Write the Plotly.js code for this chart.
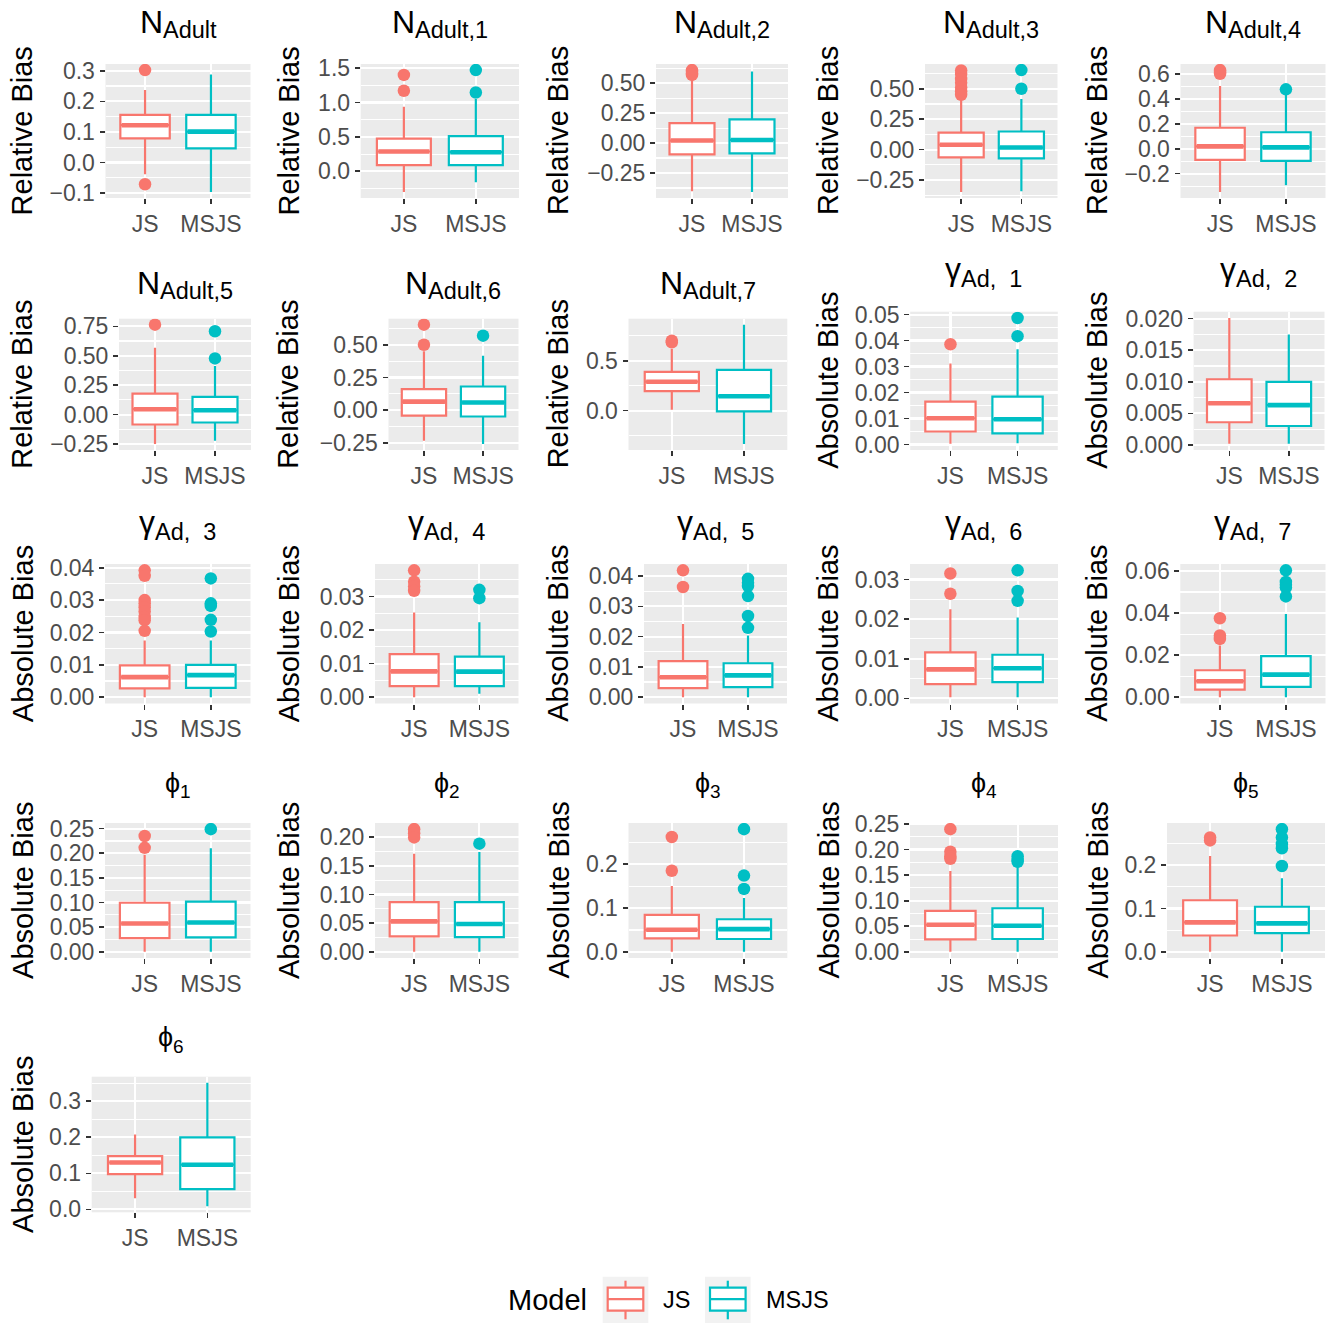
<!DOCTYPE html>
<html><head><meta charset="utf-8">
<script src="https://cdn.plot.ly/plotly-3.0.1.min.js"></script>
<style>html,body{margin:0;padding:0;background:#fff}</style>
</head><body>
<div id="chart" style="width:1339px;height:1323px"></div>
<script>
// ---------------- data ----------------
const models = ['JS', 'MSJS'];
const titleSymbols = ['N','N','N','N','N','N','N','N','γ','γ','γ','γ','γ','γ','γ','ϕ','ϕ','ϕ','ϕ','ϕ','ϕ'];
const titleSubscripts = [
  'Adult', 'Adult,1', 'Adult,2', 'Adult,3', 'Adult,4', 'Adult,5', 'Adult,6', 'Adult,7',
  'Ad,\u00a0 1', 'Ad,\u00a0 2', 'Ad,\u00a0 3', 'Ad,\u00a0 4', 'Ad,\u00a0 5', 'Ad,\u00a0 6', 'Ad,\u00a0 7',
  '1', '2', '3', '4', '5', '6'
];
const yTitles = [
  'Relative Bias','Relative Bias','Relative Bias','Relative Bias','Relative Bias',
  'Relative Bias','Relative Bias','Relative Bias',
  'Absolute Bias','Absolute Bias','Absolute Bias','Absolute Bias','Absolute Bias',
  'Absolute Bias','Absolute Bias','Absolute Bias','Absolute Bias','Absolute Bias',
  'Absolute Bias','Absolute Bias','Absolute Bias'
];
const yTickLabels = [
  ['−0.1','0.0','0.1','0.2','0.3'],
  ['0.0','0.5','1.0','1.5'],
  ['−0.25','0.00','0.25','0.50'],
  ['−0.25','0.00','0.25','0.50'],
  ['−0.2','0.0','0.2','0.4','0.6'],
  ['−0.25','0.00','0.25','0.50','0.75'],
  ['−0.25','0.00','0.25','0.50'],
  ['0.0','0.5'],
  ['0.00','0.01','0.02','0.03','0.04','0.05'],
  ['0.000','0.005','0.010','0.015','0.020'],
  ['0.00','0.01','0.02','0.03','0.04'],
  ['0.00','0.01','0.02','0.03'],
  ['0.00','0.01','0.02','0.03','0.04'],
  ['0.00','0.01','0.02','0.03'],
  ['0.00','0.02','0.04','0.06'],
  ['0.00','0.05','0.10','0.15','0.20','0.25'],
  ['0.00','0.05','0.10','0.15','0.20'],
  ['0.0','0.1','0.2'],
  ['0.00','0.05','0.10','0.15','0.20','0.25'],
  ['0.0','0.1','0.2'],
  ['0.0','0.1','0.2','0.3']
];

// JS model: box statistics per panel
const jsLower  = [-0.038, -0.30, -0.402, -0.347, -0.346, -0.25, -0.232, 0.01, 0.0003, 0.0002, 0, 0, 0, 0.0003, 0, 0, 0, 0, 0, 0, 0.031];
const jsQ1     = [0.079, 0.089, -0.095, -0.063, -0.089, -0.084, -0.041, 0.196, 0.0050, 0.0036, 0.0027, 0.0033, 0.0030, 0.0036, 0.0036, 0.028, 0.0269, 0.0308, 0.0245, 0.0377, 0.098];
const jsMedian = [0.122, 0.287, 0.021, 0.040, 0.019, 0.046, 0.066, 0.290, 0.0101, 0.0066, 0.0062, 0.0077, 0.0066, 0.0073, 0.0076, 0.0575, 0.0531, 0.0504, 0.053, 0.068, 0.130];
const jsQ3     = [0.156, 0.475, 0.167, 0.140, 0.168, 0.178, 0.161, 0.389, 0.0165, 0.0104, 0.0098, 0.0128, 0.0119, 0.0116, 0.0128, 0.0996, 0.0869, 0.0842, 0.080, 0.119, 0.148];
const jsUpper  = [0.237, 0.936, 0.53, 0.42, 0.503, 0.567, 0.45, 0.62, 0.0312, 0.0201, 0.0175, 0.0252, 0.0242, 0.0225, 0.0246, 0.197, 0.171, 0.15, 0.158, 0.221, 0.208];
const jsOutliers = [
  [0.302, -0.071], [1.40, 1.17], [0.61, 0.595, 0.58, 0.57], [0.65, 0.62, 0.58, 0.55, 0.51, 0.48, 0.45],
  [0.63, 0.615, 0.60], [0.764], [0.653, 0.50], [0.70, 0.685],
  [0.0386], [], [0.0392, 0.0375, 0.0300, 0.0290, 0.0278, 0.0265, 0.0248, 0.0238, 0.0205],
  [0.0378, 0.0344, 0.033, 0.0317], [0.0419, 0.0364], [0.0315, 0.0264], [0.0375, 0.0293, 0.0277],
  [0.235, 0.211], [0.214, 0.207, 0.1995], [0.262, 0.185], [0.240, 0.196, 0.187, 0.182], [0.264, 0.257], []
];

// MSJS model: box statistics per panel
const msLower  = [-0.096, -0.158, -0.408, -0.342, -0.292, -0.222, -0.258, -0.334, 0.0005, 0.0002, 0, 0.001, 0, 0.0003, 0, 0, 0, 0, 0, 0, 0.009];
const msQ1     = [0.046, 0.089, -0.086, -0.071, -0.097, -0.067, -0.048, -0.007, 0.0043, 0.0030, 0.0029, 0.0033, 0.0033, 0.0041, 0.0049, 0.0294, 0.0257, 0.0293, 0.0252, 0.043, 0.056];
const msMedian = [0.101, 0.277, 0.026, 0.017, 0.011, 0.037, 0.059, 0.145, 0.0097, 0.0063, 0.0068, 0.0076, 0.0072, 0.0076, 0.0107, 0.0595, 0.0486, 0.0519, 0.051, 0.0657, 0.124];
const msQ3     = [0.156, 0.51, 0.198, 0.149, 0.132, 0.15, 0.181, 0.409, 0.0184, 0.0100, 0.0100, 0.0121, 0.0112, 0.011, 0.0195, 0.102, 0.0869, 0.0744, 0.0853, 0.104, 0.200];
const msUpper  = [0.288, 1.05, 0.599, 0.416, 0.43, 0.412, 0.416, 0.861, 0.0367, 0.0175, 0.0175, 0.0223, 0.0204, 0.0204, 0.0395, 0.21, 0.174, 0.123, 0.17, 0.17, 0.351];
const msOutliers = [
  [], [1.47, 1.144], [], [0.653, 0.50], [0.476], [0.708, 0.477], [0.569], [],
  [0.0487, 0.0417], [], [0.0367, 0.0290, 0.0282, 0.0239, 0.0203], [0.032, 0.0295],
  [0.0391, 0.0378, 0.0367, 0.0334, 0.0268, 0.0229], [0.0323, 0.0271, 0.0246],
  [0.0603, 0.0548, 0.0535, 0.0521, 0.0479],
  [0.249], [0.1886], [0.28, 0.174, 0.1436], [0.187, 0.180, 0.176], [0.283, 0.264, 0.249, 0.239, 0.198], []
];

// ---------------- layout geometry (pixels) ----------------
const W = 1339, H = 1323;
const panelPx = [ // left, right, top, bottom
  [105.5, 250.5, 64, 198], [360.7, 519, 64, 198], [656, 788, 64, 198], [925, 1057.5, 64, 198], [1180.5, 1325.5, 64, 198],
  [119, 251, 318.7, 450], [388.5, 518.5, 318.7, 450], [628.5, 787.3, 318.7, 450], [910.2, 1057.8, 311.7, 450], [1193.6, 1324.5, 311.7, 450],
  [105, 250.5, 564, 703.5], [375, 518.5, 564, 703.5], [644, 787, 564, 703.5], [910, 1058, 564, 703.5], [1180.3, 1325.5, 564, 703.5],
  [105, 250.5, 823, 958], [375, 518.5, 823, 958], [628.5, 787.3, 823, 958], [910, 1058, 823, 958], [1167, 1325, 823, 958],
  [91.7, 250.7, 1076.7, 1212.3]
];
// baseline of the main title glyph, per panel
const titleBaseY = [32.7,32.7,32.7,32.7,32.7, 294.3,294.3,294.3,280,280, 533.3,533.3,533.3,533.3,533.3, 792.3,792.3,792.3,792.3,792.3, 1046.7];
const titleStyle = {
  'N': {main: 32, sub: 23.5, drop: 5},
  'γ': {main: 32, sub: 23.5, drop: 6.7},
  'ϕ': {main: 27, sub: 19, drop: 6}
};
const yTitleX = [22.4, 288.5, 558, 828, 1097];

const colors = {JS: '#F8766D', MSJS: '#00BFC4'};
const FONT = 'Liberation Sans, Arial, Helvetica, sans-serif';
const px = v => v / W, py = v => 1 - v / H;
const ctx = document.createElement('canvas').getContext('2d');
const textWidth = (s, size) => { ctx.font = size + 'px "Liberation Sans", Arial, sans-serif'; return ctx.measureText(s).width; };

const stats = {
  JS:   {lo: jsLower, q1: jsQ1, med: jsMedian, q3: jsQ3, up: jsUpper, out: jsOutliers},
  MSJS: {lo: msLower, q1: msQ1, med: msMedian, q3: msQ3, up: msUpper, out: msOutliers}
};

const traces = [];
const layout = {
  width: W, height: H,
  margin: {l: 0, r: 0, t: 0, b: 0},
  paper_bgcolor: 'white', plot_bgcolor: '#EBEBEB',
  showlegend: false, boxmode: 'overlay',
  font: {family: FONT},
  annotations: [], shapes: []
};

titleSymbols.forEach((sym, i) => {
  const xa = i === 0 ? 'x' : 'x' + (i + 1);
  const ya = i === 0 ? 'y' : 'y' + (i + 1);
  const [l, r, t, b] = panelPx[i];

  let all = [];
  models.forEach(m => {
    const s = stats[m];
    all.push(s.lo[i], s.up[i], ...s.out[i]);
    traces.push({
      type: 'box', name: m, x: [m], xaxis: xa, yaxis: ya,
      q1: [s.q1[i]], median: [s.med[i]], q3: [s.q3[i]],
      lowerfence: [s.lo[i]], upperfence: [s.up[i]],
      width: 0.75, whiskerwidth: 0, boxpoints: false,
      fillcolor: 'white', line: {color: colors[m], width: 2.2},
      hoverinfo: 'skip', showlegend: false
    });
    // thicker median line, as in ggplot
    traces.push({
      type: 'box', name: m, x: [m], xaxis: xa, yaxis: ya,
      q1: [s.med[i]], median: [s.med[i]], q3: [s.med[i]],
      lowerfence: [s.med[i]], upperfence: [s.med[i]],
      width: 0.71, whiskerwidth: 0, boxpoints: false,
      fillcolor: 'rgba(0,0,0,0)', line: {color: colors[m], width: 4.6},
      hoverinfo: 'skip', showlegend: false
    });
    if (s.out[i].length) {
      traces.push({
        type: 'scatter', mode: 'markers', name: m, xaxis: xa, yaxis: ya,
        x: s.out[i].map(() => m), y: s.out[i],
        marker: {color: colors[m], size: 12.5, line: {width: 0}},
        hoverinfo: 'skip', showlegend: false
      });
    }
  });
  const mn = Math.min(...all), mx = Math.max(...all), span = mx - mn;
  const tv = yTickLabels[i].map(s => parseFloat(s.replace('−', '-')));
  const step = tv[1] - tv[0];

  layout['xaxis' + (i === 0 ? '' : i + 1)] = {
    domain: [px(l), px(r)], anchor: ya, type: 'category',
    categoryorder: 'array', categoryarray: models, range: [-0.6, 1.6],
    showgrid: true, gridcolor: 'white', gridwidth: 2.2, zeroline: false, showline: false,
    ticks: 'outside', ticklen: 5, tickwidth: 1.6, tickcolor: '#333333',
    tickfont: {size: 23, color: '#4D4D4D', family: FONT}, fixedrange: true
  };
  layout['yaxis' + (i === 0 ? '' : i + 1)] = {
    domain: [py(b), py(t)], anchor: xa,
    range: [mn - 0.05 * span, mx + 0.05 * span],
    tickmode: 'array', tickvals: tv, ticktext: yTickLabels[i],
    showgrid: true, gridcolor: 'white', gridwidth: 2.2, zeroline: false, showline: false,
    minor: {tickmode: 'linear', tick0: tv[0], dtick: step / 2, showgrid: true, gridcolor: 'white', gridwidth: 1.1, ticks: ''},
    ticks: 'outside', ticklen: 5, tickwidth: 1.6, tickcolor: '#333333',
    tickfont: {size: 23, color: '#4D4D4D', family: FONT}, fixedrange: true
  };

  // panel title: symbol + subscript drawn as two texts
  const st = titleStyle[sym], sub = titleSubscripts[i];
  const wMain = textWidth(sym, st.main), wSub = textWidth(sub, st.sub);
  const left = (l + r) / 2 - (wMain + wSub) / 2;
  const base = titleBaseY[i];
  layout.annotations.push({
    text: sym, xref: 'paper', yref: 'paper', x: px(left), y: py(base - 0.3465 * st.main),
    xanchor: 'left', yanchor: 'middle', showarrow: false, borderpad: 0, borderwidth: 0,
    font: {size: st.main, color: 'black', family: FONT}
  });
  layout.annotations.push({
    text: sub, xref: 'paper', yref: 'paper', x: px(left + wMain), y: py(base + st.drop - 0.3465 * st.sub),
    xanchor: 'left', yanchor: 'middle', showarrow: false, borderpad: 0, borderwidth: 0,
    font: {size: st.sub, color: 'black', family: FONT}
  });
  // y-axis title
  layout.annotations.push({
    text: yTitles[i], xref: 'paper', yref: 'paper', x: px(yTitleX[i % 5]), y: py((t + b) / 2),
    xanchor: 'center', yanchor: 'middle', textangle: -90, showarrow: false,
    font: {size: 29, color: 'black', family: FONT}
  });
});

// ---------------- legend (drawn) ----------------
layout.annotations.push({
  text: 'Model', xref: 'paper', yref: 'paper', x: px(547.5), y: py(1300),
  xanchor: 'center', yanchor: 'middle', showarrow: false, font: {size: 29, color: 'black', family: FONT}
});
const keyLeft = {JS: 602.7, MSJS: 705};
const keyLabelX = {JS: 676.7, MSJS: 797.5};
models.forEach(m => {
  const k = keyLeft[m], c = colors[m], cx = k + 22.8;
  const rect = (x0, y0, x1, y1, extra) => Object.assign({type: 'rect', xref: 'paper', yref: 'paper',
    x0: px(x0), x1: px(x1), y0: py(y1), y1: py(y0)}, extra);
  const line = (x0, y0, x1, y1) => ({type: 'line', xref: 'paper', yref: 'paper',
    x0: px(x0), x1: px(x1), y0: py(y0), y1: py(y1), line: {color: c, width: 2.2}});
  layout.shapes.push(rect(k, 1276.7, k + 45.6, 1323, {fillcolor: '#F2F2F2', line: {width: 0}}));
  layout.shapes.push(rect(k + 5, 1287.7, k + 40.6, 1310.7, {fillcolor: 'white', line: {color: c, width: 2.2}}));
  layout.shapes.push(line(k + 5, 1299.2, k + 40.6, 1299.2));
  layout.shapes.push(line(cx, 1280.7, cx, 1287.7));
  layout.shapes.push(line(cx, 1310.7, cx, 1319.3));
  layout.annotations.push({
    text: m, xref: 'paper', yref: 'paper', x: px(keyLabelX[m]), y: py(1300),
    xanchor: 'center', yanchor: 'middle', showarrow: false, font: {size: 23.5, color: 'black', family: FONT}
  });
});

Plotly.newPlot('chart', traces, layout, {displayModeBar: false, staticPlot: true});
</script>
</body></html>
